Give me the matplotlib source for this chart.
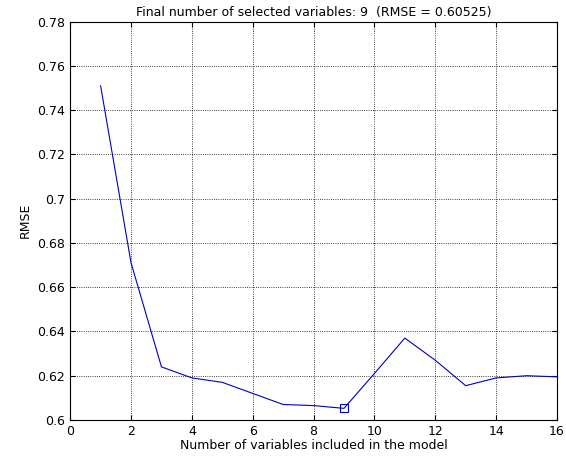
import matplotlib.pyplot as plt
import numpy as np

n_vars = [1, 2, 3, 4, 5, 6, 7, 8, 9, 10, 11, 12, 13, 14, 15, 16]
rmse = [0.751, 0.671, 0.624, 0.619, 0.617, 0.612, 0.607, 0.6065, 0.60525,
        0.621, 0.637, 0.627, 0.6155, 0.619, 0.620, 0.6195]
best_n = 9
best_rmse = 0.60525

fig = plt.figure(figsize=(5.66, 4.59), dpi=100)
ax = fig.add_axes([0.124, 0.085, 0.86, 0.868])
ax.plot(n_vars, rmse, color='#0000c0', linewidth=0.8)
ax.plot([best_n], [best_rmse], 's', markerfacecolor='none',
        markeredgecolor='#0000c0', markersize=6, markeredgewidth=0.8)
ax.set_xlim(0, 16)
ax.set_ylim(0.6, 0.78)
ax.set_xticks(np.arange(0, 17, 2))
ax.set_yticks(np.arange(0.6, 0.781, 0.02))
ax.set_yticklabels(['0.6', '0.62', '0.64', '0.66', '0.68', '0.7',
                    '0.72', '0.74', '0.76', '0.78'])
ax.grid(True, linestyle=':', color='black', linewidth=0.6)
ax.tick_params(direction='in', labelsize=9, top=True, right=True)
ax.set_xlabel('Number of variables included in the model', fontsize=9, labelpad=1)
ax.set_ylabel('RMSE', fontsize=9)
ax.set_title('Final number of selected variables: %d  (RMSE = %.5f)' % (best_n, best_rmse),
             fontsize=9, pad=4)
fig.savefig('out.png')
